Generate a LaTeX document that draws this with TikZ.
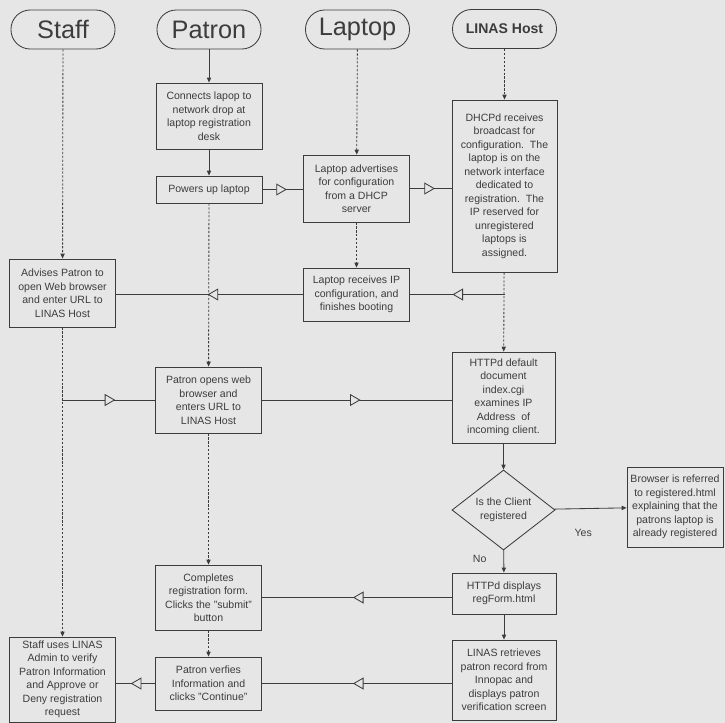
\documentclass[tikz,border=0pt]{standalone}
\usepackage{fontspec}
\setmainfont{Liberation Sans}
\usetikzlibrary{arrows.meta,shapes.geometric,decorations.markings}
\definecolor{paper}{HTML}{E6E6E6}
\definecolor{ink}{HTML}{3C3C3C}

\begin{document}
\begin{tikzpicture}[x=0.25mm,y=-0.25mm,
  every node/.style={font=\fontsize{7.5}{9.6}\selectfont,text=ink,align=center,inner sep=0pt},
  head/.style={draw=ink,line width=0.6pt,rounded corners=4.8mm,minimum width=26mm,minimum height=9.75mm,font=\fontsize{18}{20}\selectfont},
  box/.style={draw=ink,line width=0.6pt,minimum width=26.5mm},
  line/.style={draw=ink,line width=0.6pt},
  flow/.style={line,-{Triangle[length=3.5pt,width=3pt]}},
  life/.style={flow,dash pattern=on 1.6pt off 1.2pt},
  flowto/.style={postaction={decorate},decoration={markings,mark=at position #1 with {\arrow[ink,line width=0.6pt]{Triangle[length=7.5pt,width=8.5pt,fill=paper]}}}}]
\useasboundingbox[fill=paper] (0,0) rectangle (725,723);
% lane heads
\node[head] (hstaff) at (63,29.5) {Staff};
\node[head] (hpatron) at (209,29.5) {Patron};
\node[head] (hlaptop) at (357.5,29.5) {Laptop};
\node[head,font=\fontsize{10}{12}\selectfont\bfseries] (hlinas) at (504.5,29) {LINAS Host};
% staff
\node[box,minimum height=17mm] (advise) at (62.5,293) {Advises Patron to\\open Web browser\\and enter URL to\\LINAS Host};
\node[box,minimum height=21.25mm] (staffuse) at (62.5,679.5) {Staff uses LINAS\\Admin to verify\\Patron Information\\and Approve or\\Deny registration\\request};
% patron
\node[box,minimum height=16.5mm] (connect) at (209,116) {Connects lapop to\\network drop at\\laptop registration\\desk};
\node[box,minimum height=6.75mm] (power) at (209,189.5) {Powers up laptop};
\node[box,minimum height=16.5mm] (popen) at (208.5,400) {Patron opens web\\browser and\\enters URL to\\LINAS Host};
\node[box,minimum height=16.25mm] (complete) at (208.5,597.5) {Completes\\registration form.\\Clicks the "submit"\\button};
\node[box,minimum height=13.25mm] (pverify) at (208.5,683.5) {Patron verfies\\Information and\\clicks "Continue"};
% laptop
\node[box,minimum height=16.75mm] (ladv) at (356.5,188.5) {Laptop advertises\\for configuration\\from a DHCP\\server};
\node[box,minimum height=13.25mm] (lrecv) at (356.5,294.5) {Laptop receives IP\\configuration, and\\finishes booting};
% LINAS host
\node[box,minimum height=43mm,minimum width=26.25mm] (dhcp) at (504.5,186) {DHCPd receives\\broadcast for\\configuration.\ \ The\\laptop is on the\\network interface\\dedicated to\\registration.\ \ The\\IP reserved for\\unregistered\\laptops is\\assigned.};
\node[box,minimum height=22.75mm,minimum width=25.75mm] (httpd) at (503.5,397.5) {HTTPd default\\document\\index.cgi\\examines IP\\Address\ \ of\\incoming client.};
\node[diamond,draw=ink,line width=0.6pt,minimum width=25.75mm,minimum height=20mm] (ask) at (503.5,510) {Is the Client\\registered};
\node[box,minimum height=20mm,minimum width=24mm] (browser) at (675,507) {Browser is referred\\to registered.html\\explaining that the\\patrons laptop is\\already registered};
\node[box,minimum height=10.25mm,minimum width=26mm] (hdisp) at (504,593.5) {HTTPd displays\\regForm.html};
\node[box,minimum height=20mm,minimum width=26mm] (lretr) at (504,680) {LINAS retrieves\\patron record from\\Innopac and\\displays patron\\verification screen};
% life lines
\draw[life] (hstaff) -- (advise);
\draw[life] (advise) -- (staffuse);
\draw[flow] (hpatron) -- (connect);
\draw[flow] (connect) -- (power);
\draw[life] (power) -- (popen);
\draw[life] (popen) -- (complete);
\draw[life] (complete) -- (pverify);
\draw[life] (hlaptop) -- (ladv);
\draw[life] (ladv) -- (lrecv);
\draw[life] (hlinas) -- (dhcp);
\draw[life] (dhcp) -- (httpd);
\draw[flow] (httpd) -- (ask);
\draw[flow] (ask) -- node[pos=0.4,below=5mm] {Yes} (browser);
\draw[flow] (ask) -- node[pos=0.4,left=4.25mm] {No} (hdisp);
\draw[flow] (hdisp) -- (lretr);
% messages
\coordinate (dtap) at (dhcp.south |- lrecv.east);
\coordinate (stap) at (advise.south |- popen.west);
\draw[line,flowto=0.6] (power) -- (power.east -| ladv.west);
\draw[line,flowto=0.6] (ladv) -- (ladv.east -| dhcp.west);
\draw[line,flowto=0.55] (dtap) -- (lrecv);
\draw[line,flowto=0.51] (lrecv) -- (lrecv.west -| advise.east);
\draw[line,flowto=0.57] (stap) -- (popen);
\draw[line,flowto=0.52] (popen) -- (popen.east -| httpd.west);
\draw[line,flowto=0.52] (hdisp.west |- complete.east) -- (complete);
\draw[line,flowto=0.52] (lretr.west |- pverify.east) -- (pverify);
\draw[line,flowto=0.62] (pverify) -- (pverify.west -| staffuse.east);
\end{tikzpicture}
\end{document}
